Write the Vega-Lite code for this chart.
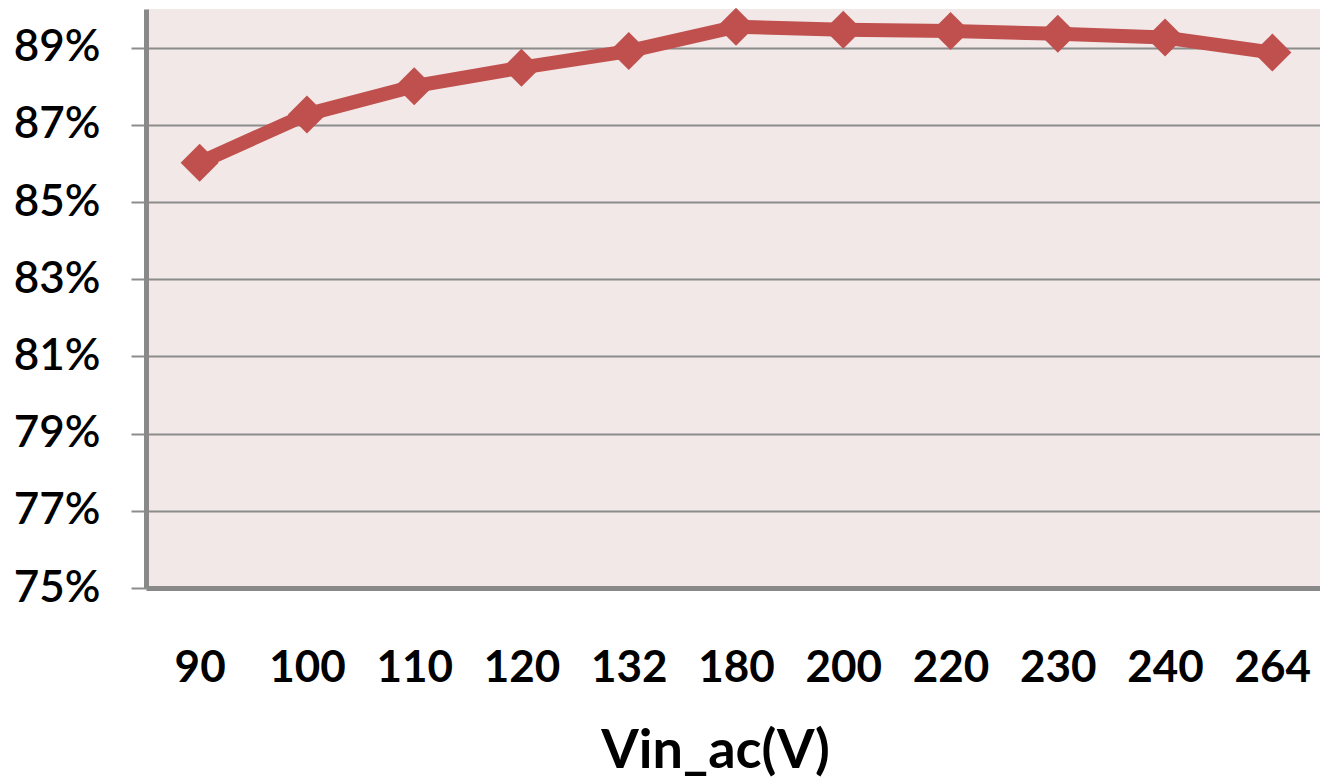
{
  "$schema": "https://vega.github.io/schema/vega-lite/v6.json",
  "width": 1180,
  "height": 579,
  "autosize": "none",
  "padding": {"left": 146, "top": 9, "right": 0, "bottom": 191},
  "background": "white",
  "config": {
    "view": {"fill": "#F2E8E8", "stroke": null},
    "font": "Lato"
  },
  "data": {
    "values": [
      {"Vin": "90", "eff": 0.8602},
      {"Vin": "100", "eff": 0.8727},
      {"Vin": "110", "eff": 0.8800},
      {"Vin": "120", "eff": 0.8848},
      {"Vin": "132", "eff": 0.8891},
      {"Vin": "180", "eff": 0.8954},
      {"Vin": "200", "eff": 0.8946},
      {"Vin": "220", "eff": 0.8943},
      {"Vin": "230", "eff": 0.8936},
      {"Vin": "240", "eff": 0.8926},
      {"Vin": "264", "eff": 0.8887}
    ]
  },
  "encoding": {
    "x": {
      "field": "Vin",
      "type": "ordinal",
      "sort": null,
      "scale": {"type": "point", "padding": 0.5},
      "title": "Vin_ac(V)",
      "axis": {
        "labelAngle": 0,
        "labelFont": "Lato",
        "labelFontSize": 44,
        "labelFontWeight": "bold",
        "labelColor": "#000000",
        "labelPadding": 58,
        "ticks": false,
        "domainColor": "#898989",
        "domainWidth": 5,
        "grid": false,
        "titleFont": "Lato",
        "titleFontSize": 54,
        "titleFontWeight": "bold",
        "titleColor": "#000000",
        "titlePadding": 34,
        "titleX": 569
      }
    },
    "y": {
      "field": "eff",
      "type": "quantitative",
      "scale": {"domain": [0.75, 0.9], "nice": false, "zero": false},
      "title": null,
      "axis": {
        "values": [0.75, 0.77, 0.79, 0.81, 0.83, 0.85, 0.87, 0.89],
        "format": ".0%",
        "labelFont": "Lato",
        "labelFontSize": 44,
        "labelFontWeight": 600,
        "labelColor": "#000000",
        "labelPadding": 31,
        "tickSize": 15,
        "tickColor": "#8C8C8C",
        "tickWidth": 2,
        "domainColor": "#898989",
        "domainWidth": 5,
        "grid": true,
        "gridColor": "#8C8C8C",
        "gridWidth": 2
      }
    }
  },
  "layer": [
    {
      "mark": {"type": "line", "color": "#C0504D", "strokeWidth": 14, "strokeJoin": "round"}
    },
    {
      "mark": {"type": "point", "shape": "diamond", "filled": true, "size": 1444, "color": "#C0504D", "opacity": 1}
    }
  ]
}
